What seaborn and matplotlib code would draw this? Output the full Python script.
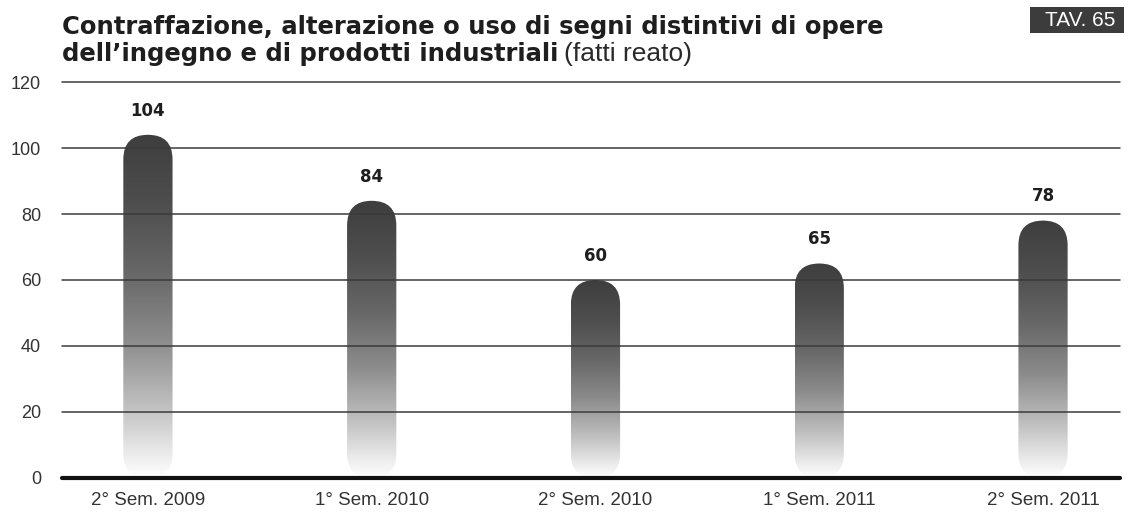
import numpy as np
import seaborn as sns
import matplotlib.pyplot as plt
from matplotlib.colors import LinearSegmentedColormap
from matplotlib.patches import FancyBboxPatch, Rectangle

periods = ["2° Sem. 2009", "1° Sem. 2010", "2° Sem. 2010", "1° Sem. 2011", "2° Sem. 2011"]
values = [104, 84, 60, 65, 78]
y_ticks = [0, 20, 40, 60, 80, 100, 120]

sns.set_theme(style="white")
plt.rcParams["font.family"] = ["Liberation Sans", "DejaVu Sans"]

W, H = 1131, 513
fig = plt.figure(figsize=(W / 100, H / 100), dpi=100)
ax = fig.add_axes([62 / W, 35 / H, 1058 / W, 396 / H])

sns.barplot(x=periods, y=values, color="#3c3c3c", width=0.22, ax=ax)
ax.set_xlim(-0.384, 4.344)
ax.set_ylim(0, 120)

# vertical fade, dark at the top, white at the base
fade = LinearSegmentedColormap.from_list(
    "fade",
    [(0, "#ffffff"), (0.06, "#eeeeee"), (0.2, "#c2c2c2"), (0.4, "#8c8c8c"),
     (0.6, "#676767"), (0.8, "#4e4e4e"), (1, "#3e3e3e")])
grad = np.linspace(0, 1, 256).reshape(-1, 1)

p0, p1 = ax.transData.transform([(0, 0), (1, 1)])
aspect = (p1[0] - p0[0]) / (p1[1] - p0[1])

for bar in list(ax.patches):
    x0, w, h = bar.get_x(), bar.get_width(), bar.get_height()
    bar.set_visible(False)
    shape = FancyBboxPatch((x0, 0), w, h, boxstyle=f"round,pad=0,rounding_size={w / 2}",
                           mutation_aspect=aspect, facecolor="none", edgecolor="none")
    ax.add_patch(shape)
    im = ax.imshow(grad, cmap=fade, extent=(x0, x0 + w, 0, h), origin="lower",
                   aspect="auto", zorder=1)
    im.set_clip_path(shape)
    ax.annotate(f"{h:g}", (x0 + w / 2, h), xytext=(0, 11), textcoords="offset points",
                ha="center", va="bottom", fontsize=12, fontweight="bold",
                family="DejaVu Sans", color="#1e1e1e")

ax.set_xlim(-0.384, 4.344)
ax.set_ylim(0, 120)

for t in y_ticks[1:]:
    ax.axhline(t, color="#3a3a3a", lw=1.1, zorder=3, clip_on=False)
ax.axhline(0, color="#111111", lw=3, zorder=4, clip_on=False)

sns.despine(ax=ax, left=True, bottom=True)
ax.set_yticks(y_ticks)
ax.tick_params(axis="y", length=0, pad=15, labelsize=13, labelcolor="#333333")
ax.tick_params(axis="x", length=0, pad=10, labelsize=13.5, labelcolor="#333333")
ax.set_xlabel("")
ax.set_ylabel("")

title_kw = dict(fontsize=17.5, fontweight="bold", family="DejaVu Sans", color="#1e1e1e", va="baseline")
fig.text(62 / W, 1 - 34 / H, "Contraffazione, alterazione o uso di segni distintivi di opere", **title_kw)
t2 = fig.text(62 / W, 1 - 61 / H, "dell’ingegno e di prodotti industriali", **title_kw)
fig.canvas.draw()
bb = t2.get_window_extent()
fig.text((bb.x1 + 6) / W, 1 - 61 / H, "(fatti reato)", fontsize=19, color="#2a2a2a", va="baseline")

fig.patches.append(Rectangle((1030 / W, 1 - 33 / H), 94 / W, 26 / H, transform=fig.transFigure,
                             facecolor="#3c3c3c", edgecolor="none"))
fig.text(1080 / W, 1 - 20 / H, "TAV. 65", ha="center", va="center", color="white", fontsize=15)

fig.savefig("out.png", dpi=100)
